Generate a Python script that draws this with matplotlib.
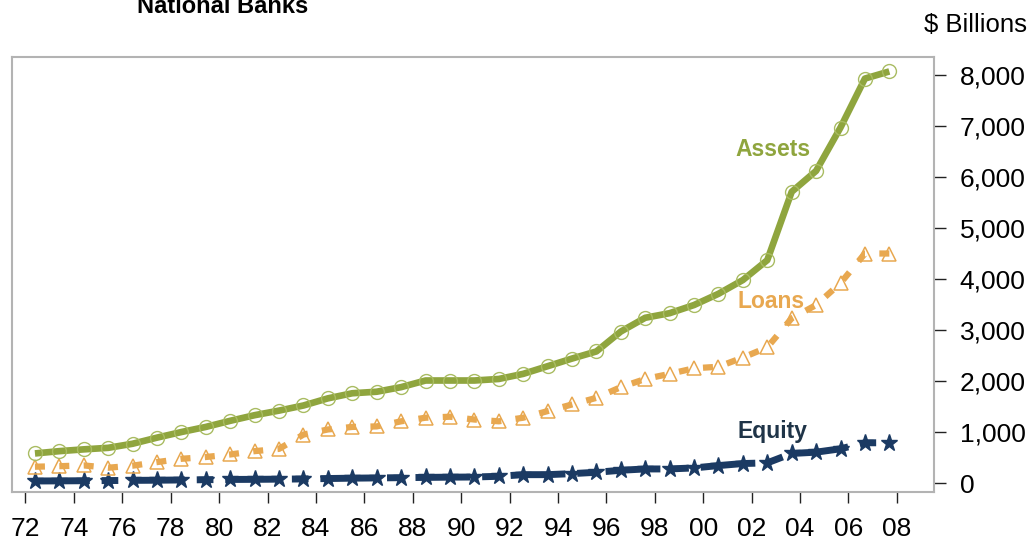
import matplotlib
matplotlib.use("Agg")
import matplotlib.pyplot as plt
import numpy as np

plt.rcParams['font.family'] = ['Liberation Sans', 'DejaVu Sans']

years = list(range(1972, 2008))
assets = [580, 625, 660, 690, 770, 890, 1000, 1100, 1220, 1330, 1420, 1520, 1660, 1760,
          1790, 1880, 2010, 2010, 2010, 2040, 2140, 2290, 2440, 2580, 2970, 3240, 3330,
          3490, 3710, 3980, 4370, 5710, 6120, 6970, 7930, 8070]
loans = [320, 330, 345, 300, 340, 410, 475, 510, 560, 625, 670, 950, 1050, 1100, 1110,
         1210, 1280, 1300, 1245, 1210, 1280, 1410, 1540, 1670, 1880, 2040, 2140, 2250,
         2280, 2460, 2660, 3230, 3490, 3920, 4500, 4500]
equity = [40, 42, 45, 48, 52, 55, 60, 65, 70, 72, 76, 80, 88, 95, 100, 105, 110, 115,
          118, 132, 164, 164, 184, 211, 250, 276, 276, 296, 342, 382, 395, 579, 605, 671,
          789, 789]
tick_labels = [f"{y % 100:02d}" for y in range(1972, 2009, 2)]
yticks = list(range(0, 8001, 1000))

GREEN = '#8FA53E'
ORANGE = '#E8A850'
NAVY = '#1B3A63'

W, H = 1033, 541
fig = plt.figure(figsize=(W / 100, H / 100), dpi=100)
ax = fig.add_axes([12 / W, 49 / H, (934 - 12) / W, (492 - 57) / H])

ax.plot(years, equity, color=NAVY, lw=5, dashes=(7.9, 1.7, 2.4, 1.7),
        dash_capstyle='butt', marker='*', markersize=12.5, markerfacecolor=NAVY,
        markeredgecolor=NAVY, zorder=3)
ax.plot(years, loans, color=ORANGE, lw=4.5, dashes=(1.6, 2.3), dash_capstyle='butt',
        marker='^', markersize=10.5, markerfacecolor='none', markeredgecolor=ORANGE,
        markeredgewidth=1.1, zorder=4)
ax.plot(years, assets, color=GREEN, lw=4.8, solid_capstyle='butt', marker='o',
        markersize=10, markerfacecolor='none', markeredgecolor='#A9BC62',
        markeredgewidth=1.0, zorder=5)

ax.set_xlim(1971.06, 2008.83)
ax.set_ylim(-176, 8353)

ax.set_xticks(np.linspace(1971.61, 2007.31, len(tick_labels)))
ax.set_xticklabels(tick_labels)
ax.set_yticks(yticks)
ax.set_yticklabels([f"{v:,}" for v in yticks])
ax.yaxis.tick_right()

ax.tick_params(axis='y', left=False, right=True, length=8.6, width=1.0,
               color='#222222', pad=10, labelsize=19)
ax.tick_params(axis='x', bottom=True, length=8, width=1.0, color='#222222',
               pad=10, labelsize=19)

for s in ax.spines.values():
    s.set_color('#B3B3B3')
    s.set_linewidth(1.5)

ax.text(2000.68, 6412, 'Assets', color=GREEN, fontsize=16.5, fontweight='bold',
        ha='left', va='baseline')
ax.text(2000.76, 3431, 'Loans', color=ORANGE, fontsize=16.5, fontweight='bold',
        ha='left', va='baseline')
ax.text(2000.76, 882, 'Equity', color='#1F3448', fontsize=16.5, fontweight='bold',
        ha='left', va='baseline')

fig.text(222.5 / W, 1 - 12.7 / H, 'National Banks', ha='center', va='baseline',
         fontweight='bold', fontsize=17)
fig.text(1027 / W, 1 - 31.7 / H, '\\$ Billions', ha='right', va='baseline',
         fontsize=18.5)

fig.savefig('out.png', dpi=100)
